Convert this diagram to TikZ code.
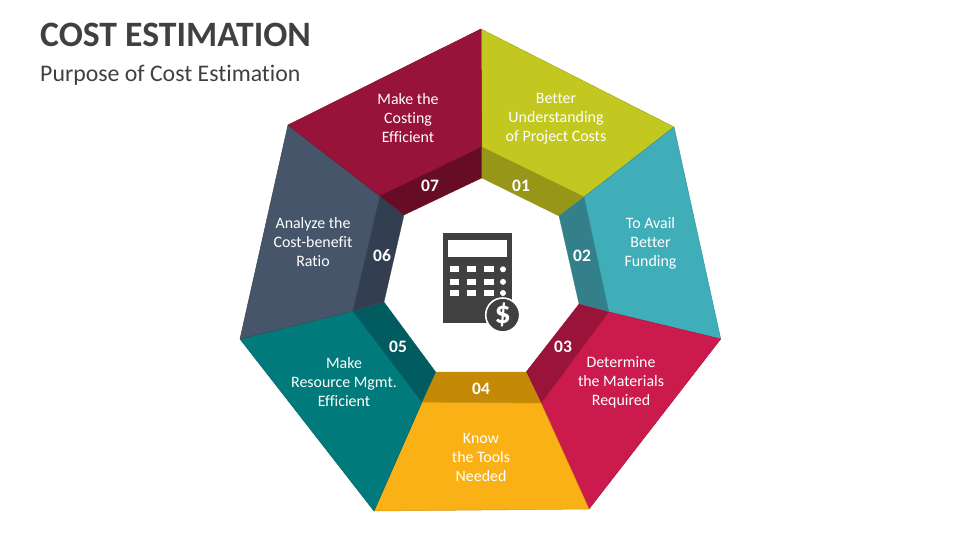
\documentclass[tikz,border=0pt]{standalone}
\usepackage{fontspec}
\setmainfont[Ligatures={NoCommon,NoContextual,NoRare}]{Carlito}
\definecolor{inkgrey}{HTML}{404040}
\definecolor{oliveL}{HTML}{C2C820}\definecolor{oliveD}{HTML}{969618}
\definecolor{tealL}{HTML}{3FAEB8}\definecolor{tealD}{HTML}{33808A}
\definecolor{crimL}{HTML}{CB1B4D}\definecolor{crimD}{HTML}{9A1338}
\definecolor{goldL}{HTML}{FAB116}\definecolor{goldD}{HTML}{C48A06}
\definecolor{greenL}{HTML}{007A7B}\definecolor{greenD}{HTML}{005C5F}
\definecolor{slateL}{HTML}{465569}\definecolor{slateD}{HTML}{333F50}
\definecolor{wineL}{HTML}{98133A}\definecolor{wineD}{HTML}{660C24}
\tikzset{
  x=1pt,y=-1pt,
  lbl/.style={text=white,align=center,inner sep=0pt,font=\fontsize{15.9}{19}\selectfont},
  num/.style={text=white,inner sep=0pt,font=\fontsize{17.5}{18}\selectfont\bfseries},
  face/.style={fill=#1,draw=#1!85!black,line width=0.5pt,line join=round},
  fold/.style={fill=#1,draw=#1,line width=0.2pt,line join=round},
  key/.style={fill=white,draw=none},
}
\begin{document}
\begin{tikzpicture}
\useasboundingbox (0,0) rectangle (960,540);
% outer faces
\draw[face=oliveL] (481,29) -- (674,127) -- (584,197) -- (481.7,147) -- cycle;
\draw[face=tealL] (674,127) -- (720.7,339) -- (608.7,312) -- (584,197) -- cycle;
\draw[face=crimL] (720.7,339) -- (589,509) -- (541,403) -- (608.7,312) -- cycle;
\draw[face=goldL] (589,509) -- (374,511) -- (422,402) -- (541,403) -- cycle;
\draw[face=greenL] (374,511) -- (240,339) -- (353,311) -- (422,402) -- cycle;
\draw[face=slateL] (240,339) -- (288,125) -- (380,196) -- (353,311) -- cycle;
\draw[face=wineL] (288,125) -- (481,29) -- (481.7,147) -- (380,196) -- cycle;
% inner folds
\draw[fold=oliveD] (481.7,147) -- (584,197) -- (559,216) -- (481.7,178) -- cycle;
\draw[fold=tealD] (584,197) -- (608.7,312) -- (579,304) -- (559,216) -- cycle;
\draw[fold=crimD] (608.7,312) -- (541,403) -- (526,372) -- (579,304) -- cycle;
\draw[fold=goldD] (541,403) -- (422,402) -- (435.7,372) -- (526,372) -- cycle;
\draw[fold=greenD] (422,402) -- (353,311) -- (384,302) -- (435.7,372) -- cycle;
\draw[fold=slateD] (353,311) -- (380,196) -- (404,215) -- (384,302) -- cycle;
\draw[fold=wineD] (380,196) -- (481.7,147) -- (481.7,178) -- (404,215) -- cycle;
% titles
\node[anchor=base west,inner sep=0pt,text=inkgrey,font=\fontsize{35.7}{40}\selectfont\bfseries] (title) at (40,46.5) {COST ESTIMATION};
\node[anchor=base west,inner sep=0pt,text=inkgrey,font=\fontsize{23.8}{26}\selectfont] (subtitle) at (40,81.7) {Purpose of Cost Estimation};
% labels
\node[lbl] (t1) at (556,118.7) {Better\\Understanding\\of Project Costs};
\node[lbl] (t2) at (650.5,243.7) {To Avail\\Better\\Funding};
\node[lbl] (t3) at (621,382.7) {Determine\\the Materials\\Required};
\node[lbl] (t4) at (481,457.7) {Know\\the Tools\\Needed};
\node[lbl] (t5) at (344,381.9) {Make\\Resource Mgmt.\\Efficient};
\node[lbl] (t6) at (313,241.9) {Analyze the\\Cost-benefit\\Ratio};
\node[lbl] (t7) at (408,117.9) {Make the\\Costing\\Efficient};
% numbers
\node[num] (n1) at (521,185.7) {01};
\node[num] (n2) at (582,255.7) {02};
\node[num] (n3) at (563,346.7) {03};
\node[num] (n4) at (481,388.7) {04};
\node[num] (n5) at (398,346.7) {05};
\node[num] (n6) at (382,255.7) {06};
\node[num] (n7) at (430,185.7) {07};
% calculator
\fill[inkgrey] (443,233.3) rectangle (512.3,323.3);
\fill[key] (448.3,240) rectangle (507,257.3);
\foreach \ya/\yb in {266.3/272.3,278.7/285,290/296}{
  \fill[key] (450,\ya) rectangle (459.3,\yb);
  \fill[key] (466.7,\ya) rectangle (476,\yb);
  \fill[key] (483.7,\ya) rectangle (493.7,\yb);
  \fill[key] (503,{(\ya+\yb)/2}) circle (3);
}
\draw[fill=inkgrey,draw=white,line width=1.6pt] (502.7,315) circle (17);
\node[text=white,inner sep=0pt,font=\fontsize{32}{34}\selectfont\bfseries] (dollar) at (502.7,315) {\$};
\end{tikzpicture}
\end{document}
